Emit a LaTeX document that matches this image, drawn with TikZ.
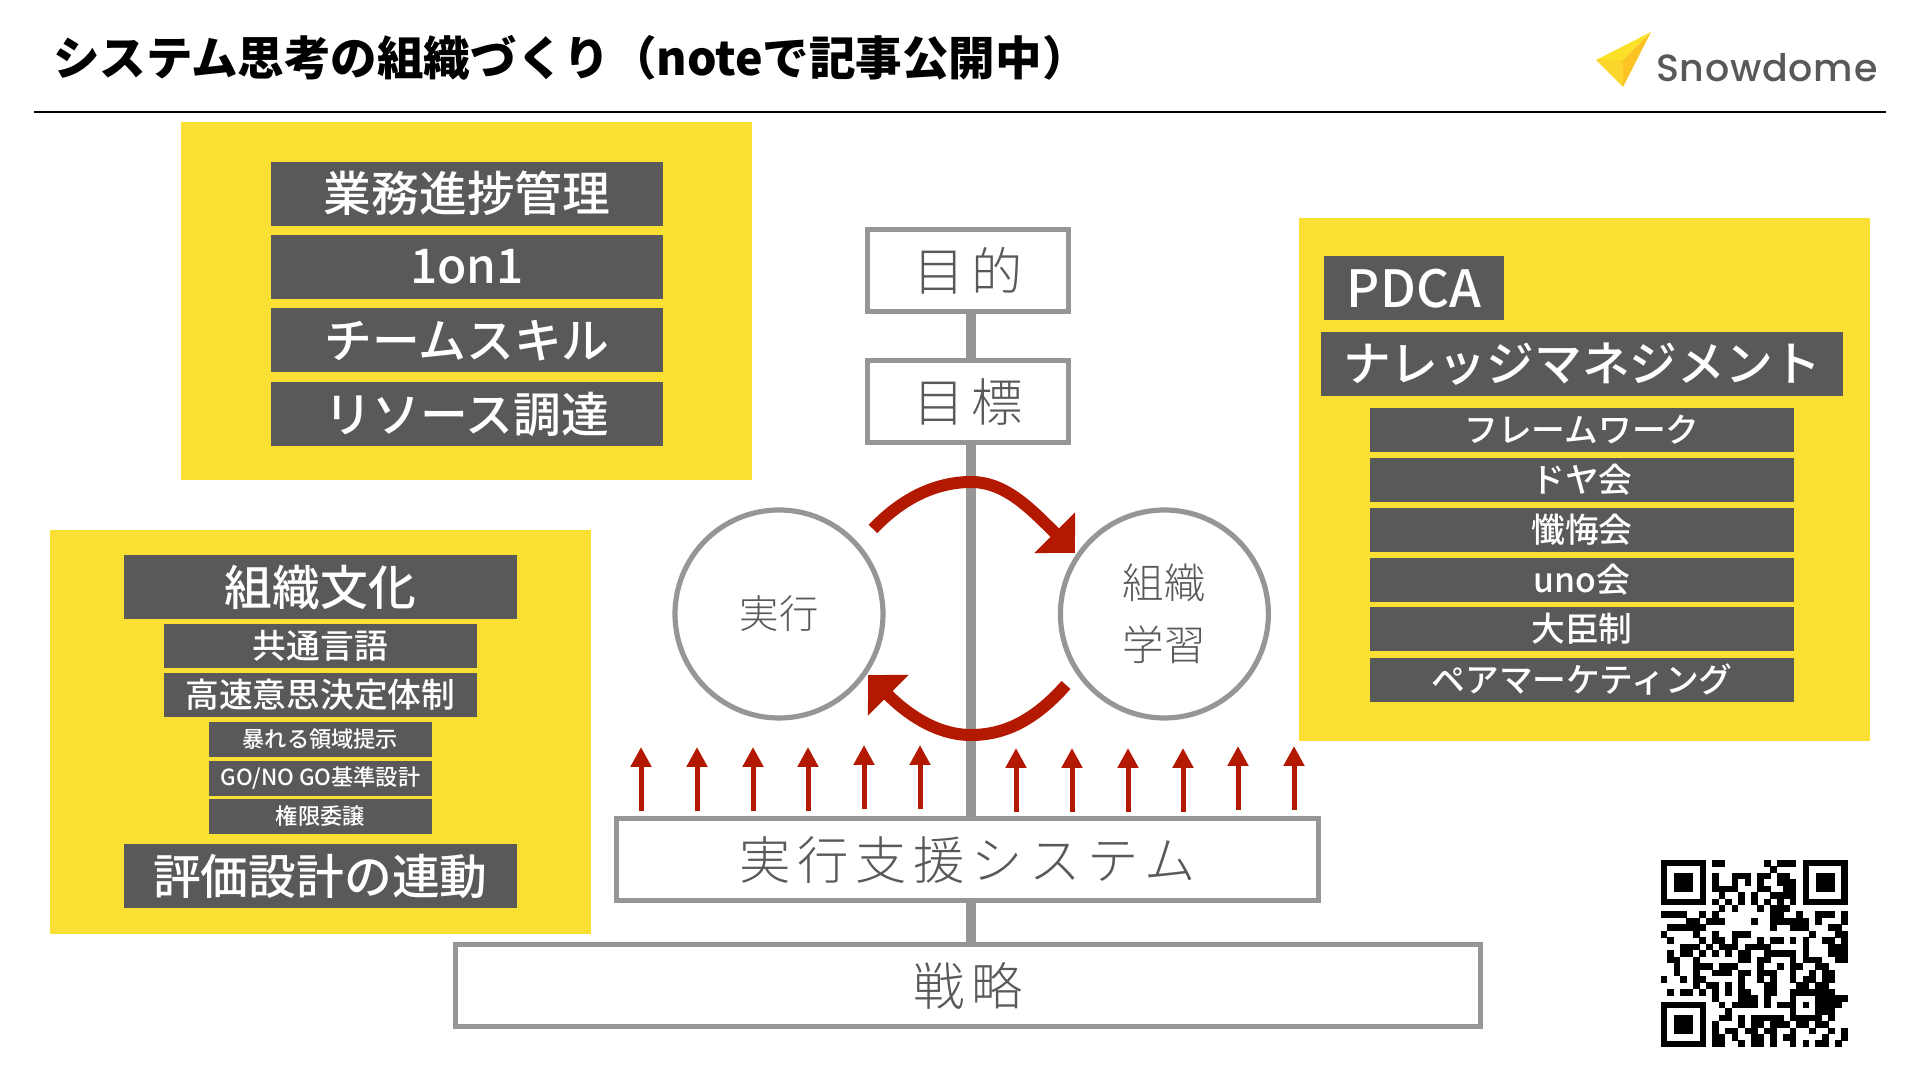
\documentclass[tikz,border=0pt]{standalone}
\usepackage{fontspec}
\setmainfont{Noto Sans CJK JP}
\newfontfamily\lightjp[UprightFont=* Light]{Noto Sans CJK JP}
\newfontfamily\lightwide[UprightFont=* Light,LetterSpace=13]{Noto Sans CJK JP}
\newfontfamily\mediumjp[UprightFont=* Medium]{Noto Sans CJK JP}
\newfontfamily\logofont[UprightFont=* Medium,LetterSpace=2]{Poppins}
\usetikzlibrary{arrows.meta,positioning,calc}
\definecolor{fyellow}{HTML}{FAE032}
\definecolor{fdark}{HTML}{595959}
\definecolor{fgray}{HTML}{969696}
\definecolor{fred}{HTML}{B31900}
\tikzset{
  panel/.style     = {fill=fyellow},
  barbig/.style    = {fill=fdark, text=white, minimum height=1.6cm, inner sep=0pt,
                      font=\fontsize{34}{36}\selectfont\mediumjp},
  barmid/.style    = {fill=fdark, text=white, minimum height=1.1cm, inner sep=0pt,
                      font=\fontsize{24}{26}\selectfont\mediumjp},
  barsmall/.style  = {fill=fdark, text=white, minimum height=0.875cm, minimum width=5.575cm,
                      inner sep=0pt, font=\fontsize{15.8}{18}\selectfont\mediumjp},
  outbox/.style    = {draw=fgray, line width=3.7pt, minimum height=2.06cm, inner sep=0pt,
                      text=fdark, font=\fontsize{36.5}{38}\selectfont\lightwide},
  ring/.style      = {draw=fgray, line width=3.7pt, circle, minimum size=5.2cm, inner sep=0pt,
                      text=fdark, align=center},
  trunk/.style     = {draw=fgray, line width=0.25cm},
  loopline/.style  = {draw=fred, line width=0.3cm, -{Triangle[length=7.2mm,width=14mm]}},
  risearrow/.style = {draw=fred, line width=0.125cm, -{Triangle[length=5mm,width=5mm]}},
}
\begin{document}
\begin{tikzpicture}[x=1cm, y=1cm]
\useasboundingbox (0,0) rectangle (48,27);
% ---------------- header ----------------
\node[anchor=west, inner sep=0pt, font=\fontsize{33.1}{36}\selectfont\bfseries] (title) at (1.32,25.56)
      {システム思考の組織づくり（noteで記事公開中）};
\coordinate (ruleL) at (0.85,24.2);
\coordinate (ruleR) at (47.15,24.2);
\draw[line width=1.5pt] (ruleL) -- (ruleR);
% logo
\fill[yellow!30!fyellow] (41.275,26.2) -- (39.9,25.5) -- (40.575,25.5) -- cycle;
\fill[fyellow!90!orange] (39.9,25.5) -- (40.575,25.5) -- (40.575,24.825) -- cycle;
\fill[fyellow!70!orange] (41.275,26.2) -- (40.575,25.5) -- (40.575,24.825) -- cycle;
\node[anchor=base west, inner sep=0pt, text=fdark, font=\fontsize{27}{30}\selectfont\logofont] (logo)
      at (41.4,24.96) {Snowdome};
% ---------------- yellow panels ----------------
\fill[panel] (4.525,15.0) rectangle (18.8,23.95);
\fill[panel] (1.25,3.65) rectangle (14.775,13.75);
\fill[panel] (32.475,8.475) rectangle (46.75,21.55);
% ---------------- top left panel ----------------
\foreach \n/\y/\t in {gyomu/22.16/業務進捗管理,oneon/20.325/1on1,skill/18.49/チームスキル,risou/16.65/リソース調達}{
  \node[barbig, minimum width=9.8cm] (\n) at (11.675,\y) {\t};}
% ---------------- left panel ----------------
\node[barbig, minimum width=9.825cm] (bunka) at (8.01,12.325) {組織文化};
\node[barmid, minimum width=7.825cm] (kyotsu) at (8.01,10.85) {共通言語};
\node[barmid, minimum width=7.825cm] (kosoku) at (8.01,9.625) {高速意思決定体制};
\node[barsmall] (abare) at (8.01,8.51) {暴れる領域提示};
\node[barsmall] (gonogo) at (8.01,7.54) {GO/NO GO基準設計};
\node[barsmall] (kengen) at (8.01,6.59) {権限委譲};
\node[barbig, minimum width=9.825cm] (hyoka) at (8.01,5.09) {評価設計の連動};
% ---------------- right panel ----------------
\node[barbig, minimum width=4.5cm, font=\fontsize{36.5}{38}\selectfont\mediumjp] (pdca) at (35.35,19.79) {PDCA};
\node[barbig, minimum width=13.05cm] (knowledge) at (39.55,17.9) {ナレッジマネジメント};
\foreach \n/\y/\t in {frame/16.25/フレームワーク,doya/15.0/ドヤ会,zange/13.75/懺悔会,uno/12.5/uno会,
                      daijin/11.275/大臣制,pair/10.0/ペアマーケティング}{
  \node[barmid, minimum width=10.6cm] (\n) at (39.55,\y) {\t};}
% ---------------- centre boxes ----------------
\node[outbox, minimum width=5.03cm] (mokuteki) at (24.2,20.24) {目的};
\node[outbox, minimum width=5.03cm] (mokuhyo) at (24.2,16.96) {目標};
\node[outbox, minimum width=17.55cm] (shien) at (24.19,5.51) {実行支援システム};
\node[outbox, minimum width=25.63cm] (senryaku) at (24.2,2.36) {戦略};
\coordinate (axis) at (24.275,0);
\draw[trunk] (mokuteki.south -| axis) -- (mokuhyo.north -| axis);
\draw[trunk] (mokuhyo.south -| axis) -- (shien.north -| axis);
\draw[trunk] (shien.south -| axis) -- (senryaku.north -| axis);
% ---------------- loop ----------------
\node[ring, font=\fontsize{28}{30}\selectfont\lightjp] (jikko) at (19.475,11.65) {実行};
\node[ring, font=\fontsize{29.5}{44}\selectfont\lightjp] (gakushu) at (29.11,11.65) {組織\\学習};
\coordinate (loopA) at (21.825,13.775);
\coordinate (loopB) at (26.875,13.175);
\coordinate (loopC) at (26.65,9.875);
\coordinate (loopD) at (21.7,10.125);
\draw[loopline] (loopA) .. controls (22.625,14.625) and (23.5,14.95) .. (24.275,14.95)
                        .. controls (25.125,14.95) and (25.75,14.3) .. (loopB);
\draw[loopline] (loopC) .. controls (25.875,9.0) and (25.125,8.625) .. (24.275,8.625)
                        .. controls (23.375,8.625) and (22.625,9.2) .. (loopD);
% small arrows on the support box
\foreach \x/\b in {16.025/6.725,17.425/6.725,18.825/6.725,20.2/6.725,21.6/6.775,23.0/6.775,
                   25.4/6.7,26.8/6.7,28.2/6.7,29.575/6.7,30.95/6.75,32.35/6.75}{
  \draw[risearrow] (\x,\b) -- (\x,\b+1.6);}
% ---------------- QR code ----------------
\begin{scope}[shift={(41.52,5.5)}, x=0.16125cm, y=-0.16125cm]
\foreach \ox/\oy in {0/0,22/0,0/22}{
  \draw[line width=0.16125cm] (\ox+0.5,\oy+0.5) rectangle (\ox+6.5,\oy+6.5);
  \fill (\ox+2,\oy+2) rectangle (\ox+5,\oy+5);}
\foreach \r/\cols in {
  0/{8,9,16,18,19,20},
  1/{17},
  2/{8,11,12,13,15,16,18,19},
  3/{8,11,13,15,18,19,20},
  4/{8,9,10,11,15,16,19,20},
  5/{9,12,14,17,18,19,20},
  6/{8,10,12,14,16,18,20},
  7/{9,11,15,17,18,19},
  8/{0,1,2,3,6,8,17,18,21,24,25,26,28},
  9/{4,5,7,8,9,14,17,18,19,20,21,22,24,28},
  10/{1,2,3,4,5,6,17,20,21,22,26,27},
  11/{0,5,8,11,12,13,23,27,28},
  12/{1,6,8,9,11,15,17,18,20,22,25,26,28},
  13/{3,4,5,7,9,10,11,13,14,15,16,22,26,27,28},
  14/{1,3,4,6,8,10,12,13,16,17,18,19,20,22,26,27,28},
  15/{1,2,5,12,13,15,16,20,22,23,24,27,28},
  16/{2,5,6,7,9,10,11,15,18,20,21,24,25},
  17/{2,5,8,9,10,12,13,15,16,17,20,23,25,26},
  18/{0,3,5,6,12,15,17,20,22,23,25,26},
  19/{5,7,8,10,12,16,17,21,22,24,25},
  20/{1,3,4,6,8,10,12,13,16,17,20,21,22,23,24,25,26},
  21/{8,12,13,14,16,20,24,25,26,27,28},
  22/{9,11,12,13,14,16,18,19,20,22,24,25,26,27},
  23/{10,20,24,25,26},
  24/{9,10,12,14,15,16,17,18,20,21,22,23,24,26},
  25/{8,12,14,15,17,18,19,21,22,24,25},
  26/{8,10,11,13,14,16,17,20,23,26,28},
  27/{8,9,11,14,15,17,19,20,25,28},
  28/{8,9,12,14,15,17,20,22,24,25,27}}{
  \foreach \c in \cols{
    \fill (\c-0.02,\r-0.02) rectangle (\c+1.02,\r+1.02);}}
\end{scope}
\end{tikzpicture}
\end{document}
